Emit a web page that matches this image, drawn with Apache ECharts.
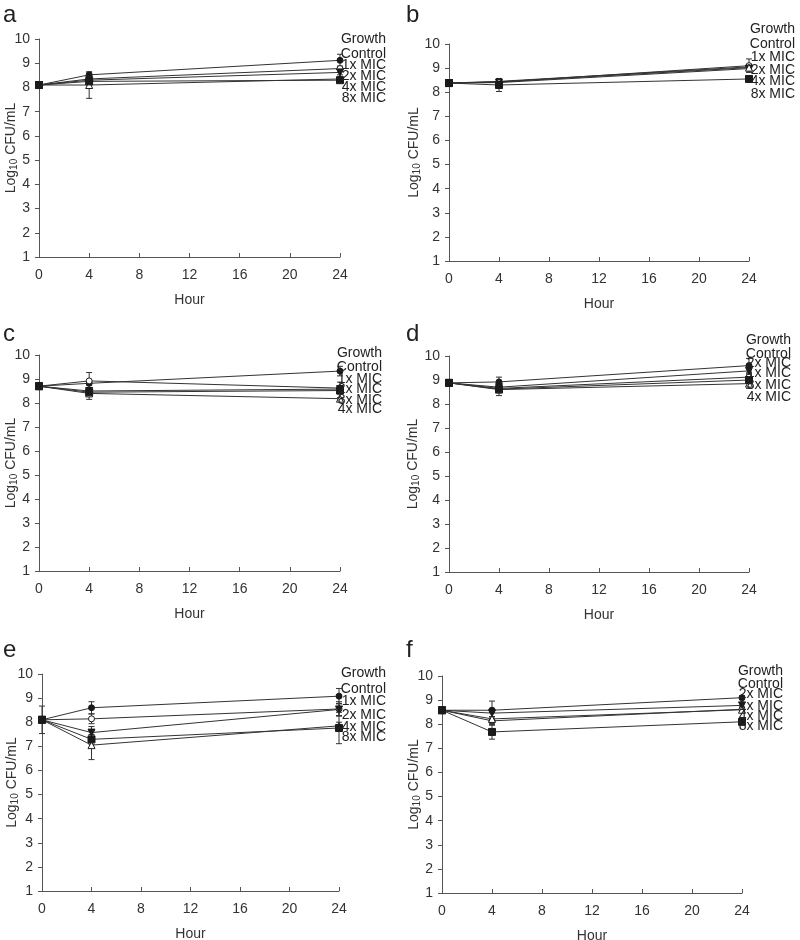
<!DOCTYPE html>
<html>
<head>
<meta charset="utf-8">
<script src="https://cdn.jsdelivr.net/npm/echarts@6/dist/echarts.min.js"></script>
<style>
html,body{margin:0;padding:0;background:#fff;}
#chart{width:800px;height:940px;}
</style>
</head>
<body>
<div id="chart"></div>
<script>
// ---------- DATA ----------
const hours = [0, 4, 24];
const xTicks = [0, 4, 8, 12, 16, 20, 24];
const seriesNames = ['Growth Control', '1x MIC', '2x MIC', '4x MIC', '8x MIC'];

// panel a
const aControl = [8.10, 8.52, 9.12];
const a1x      = [8.10, 8.35, 8.78];
const a2x      = [8.10, 8.30, 8.62];
const a4x      = [8.10, 8.10, 8.35];
const a8x      = [8.10, 8.25, 8.30];
const aControlErr = [0, 0.08, 0.25];
const a1xErr      = [0, 0.05, 0.10];
const a2xErr      = [0, 0.05, 0.10];
const a4xErr      = [0, 0.55, 0.08];
const a8xErr      = [0, 0.05, 0.08];
const aLabels = ['Growth', 'Control', '1x MIC', '2x MIC', '4x MIC', '8x MIC'];

// panel b
const bControl = [8.38, 8.45, 9.05];
const b1x      = [8.38, 8.42, 9.10];
const b2x      = [8.38, 8.40, 8.98];
const b4x      = [8.38, 8.43, 9.02];
const b8x      = [8.38, 8.30, 8.55];
const bControlErr = [0, 0.08, 0.10];
const b1xErr      = [0, 0.08, 0.28];
const b2xErr      = [0, 0.05, 0.10];
const b4xErr      = [0, 0.05, 0.08];
const b8xErr      = [0, 0.27, 0.12];
const bLabels = ['Growth', 'Control', '1x MIC', '2x MIC', '4x MIC', '8x MIC'];

// panel c
const cControl = [8.70, 8.82, 9.33];
const c1x      = [8.70, 8.92, 8.62];
const c2x      = [8.70, 8.50, 8.58];
const c4x      = [8.70, 8.40, 8.18];
const c8x      = [8.70, 8.45, 8.52];
const cControlErr = [0, 0.08, 0.20];
const c1xErr      = [0, 0.35, 0.25];
const c2xErr      = [0, 0.10, 0.10];
const c4xErr      = [0, 0.25, 0.05];
const c8xErr      = [0, 0.08, 0.08];
const cLabels = ['Growth', 'Control', '1x MIC', '2x MIC', '8x MIC', '4x MIC'];

// panel d
const dControl = [8.88, 8.92, 9.60];
const d1x      = [8.88, 8.65, 9.12];
const d2x      = [8.88, 8.70, 9.38];
const d4x      = [8.88, 8.60, 8.85];
const d8x      = [8.88, 8.62, 9.00];
const dControlErr = [0, 0.20, 0.30];
const d1xErr      = [0, 0.08, 0.10];
const d2xErr      = [0, 0.08, 0.10];
const d4xErr      = [0, 0.25, 0.20];
const d8xErr      = [0, 0.08, 0.10];
const dLabels = ['Growth', 'Control', '2x MIC', '1x MIC', '8x MIC', '4x MIC'];

// panel e
const eControl = [8.10, 8.60, 9.08];
const e1x      = [8.10, 8.14, 8.55];
const e2x      = [8.10, 7.57, 8.53];
const e4x      = [8.10, 7.05, 7.85];
const e8x      = [8.10, 7.29, 7.76];
const eControlErr = [0.05, 0.25, 0.32];
const e1xErr      = [0.57, 0.20, 0.30];
const e2xErr      = [0.05, 0.25, 0.25];
const e4xErr      = [0.05, 0.60, 0.15];
const e8xErr      = [0.05, 0.20, 0.65];
const eLabels = ['Growth', 'Control', '1x MIC', '2x MIC', '4x MIC', '8x MIC'];

// panel f
const fControl = [8.58, 8.58, 9.10];
const f1x      = [8.58, 8.14, 8.62];
const f2x      = [8.58, 8.46, 8.78];
const f4x      = [8.58, 8.22, 8.60];
const f8x      = [8.58, 7.68, 8.10];
const fControlErr = [0, 0.08, 0.08];
const f1xErr      = [0, 0.12, 0.10];
const f2xErr      = [0, 0.50, 0.10];
const f4xErr      = [0, 0.10, 0.10];
const f8xErr      = [0, 0.30, 0.12];
const fLabels = ['Growth', 'Control', '2x MIC', '1x MIC', '4x MIC', '8x MIC'];

// ---------- LAYOUT ----------
const panels = [
  { letter: 'a', grid: {left: 39, top: 39, width: 301, height: 218}, nameGap: 20,
    values: [aControl, a1x, a2x, a4x, a8x], errs: [aControlErr, a1xErr, a2xErr, a4xErr, a8xErr],
    labels: aLabels, labelX: 386, labelY: [39, 54, 65, 76, 87, 98], letterPos: [3, 3] },
  { letter: 'b', grid: {left: 449, top: 44, width: 300, height: 217}, nameGap: 27,
    values: [bControl, b1x, b2x, b4x, b8x], errs: [bControlErr, b1xErr, b2xErr, b4xErr, b8xErr],
    labels: bLabels, labelX: 795, labelY: [29, 44, 57, 70, 81, 94], letterPos: [406, 3] },
  { letter: 'c', grid: {left: 39, top: 355, width: 301, height: 216}, nameGap: 20,
    values: [cControl, c1x, c2x, c4x, c8x], errs: [cControlErr, c1xErr, c2xErr, c4xErr, c8xErr],
    labels: cLabels, labelX: 382, labelY: [353, 367, 379, 389, 400, 409], letterPos: [3, 322] },
  { letter: 'd', grid: {left: 449, top: 356, width: 300, height: 216}, nameGap: 28,
    values: [dControl, d1x, d2x, d4x, d8x], errs: [dControlErr, d1xErr, d2xErr, d4xErr, d8xErr],
    labels: dLabels, labelX: 791, labelY: [340, 354, 363, 373, 385, 397], letterPos: [406, 322] },
  { letter: 'e', grid: {left: 42, top: 674, width: 297, height: 217}, nameGap: 22,
    values: [eControl, e1x, e2x, e4x, e8x], errs: [eControlErr, e1xErr, e2xErr, e4xErr, e8xErr],
    labels: eLabels, labelX: 386, labelY: [673, 689, 701, 715, 727, 737], letterPos: [3, 638] },
  { letter: 'f', grid: {left: 442, top: 676, width: 300, height: 217}, nameGap: 20,
    values: [fControl, f1x, f2x, f4x, f8x], errs: [fControlErr, f1xErr, f2xErr, f4xErr, f8xErr],
    labels: fLabels, labelX: 783, labelY: [671, 684, 694, 706, 716, 726], letterPos: [406, 638] }
];

const symbolStyles = [
  { symbol: 'circle', fill: '#1a1a1a', rotate: 0, size: 6 },
  { symbol: 'circle', fill: '#ffffff', rotate: 0, size: 6 },
  { symbol: 'triangle', fill: '#1a1a1a', rotate: 180, size: 7 },
  { symbol: 'triangle', fill: '#ffffff', rotate: 0, size: 7 },
  { symbol: 'rect', fill: '#1a1a1a', rotate: 0, size: 7 }
];

const FONT = 'Liberation Sans, Arial, sans-serif';
const AXC = '#555';
const TXT = '#333';

const option = {
  backgroundColor: '#fff',
  animation: false,
  grid: [], xAxis: [], yAxis: [], series: [], graphic: []
};

panels.forEach((p, i) => {
  option.grid.push(Object.assign({ containLabel: false, outerBoundsMode: 'none' }, p.grid));
  option.xAxis.push({
    gridIndex: i, type: 'value', min: 0, max: 24, interval: 4,
    name: 'Hour', nameLocation: 'middle', nameGap: 36, nameMoveOverlap: false,
    nameTextStyle: { fontFamily: FONT, fontSize: 14, color: TXT },
    axisLine: { lineStyle: { color: AXC, width: 1 } },
    axisTick: { inside: true, length: 4, lineStyle: { color: AXC } },
    axisLabel: { fontFamily: FONT, fontSize: 14, color: TXT, margin: 11,
      formatter: v => xTicks.includes(v) ? String(v) : '' },
    splitLine: { show: false }
  });
  option.yAxis.push({
    gridIndex: i, type: 'value', min: 1, max: 10, interval: 1,
    name: 'Log{sub|10} CFU/mL', nameLocation: 'middle', nameGap: p.nameGap, nameMoveOverlap: false,
    nameTextStyle: { fontFamily: FONT, fontSize: 14, color: TXT,
      rich: { sub: { fontFamily: FONT, fontSize: 10, color: TXT, verticalAlign: 'bottom', padding: [5, 0, 0, 0] } } },
    axisLine: { show: true, lineStyle: { color: AXC, width: 1 } },
    axisTick: { show: true, length: 4, lineStyle: { color: AXC } },
    axisLabel: { fontFamily: FONT, fontSize: 14, color: TXT, margin: 9 },
    splitLine: { show: false }
  });

  p.values.forEach((vals, s) => {
    const st = symbolStyles[s];
    option.series.push({
      name: seriesNames[s], type: 'line', xAxisIndex: i, yAxisIndex: i,
      data: hours.map((h, k) => [h, vals[k]]),
      symbol: st.symbol, symbolSize: st.size, symbolRotate: st.rotate,
      showAllSymbol: true, z: 3,
      lineStyle: { color: '#333', width: 1 },
      itemStyle: { color: st.fill, borderColor: '#1a1a1a', borderWidth: 1 }
    });
    option.series.push({
      type: 'custom', xAxisIndex: i, yAxisIndex: i, z: 2,
      data: hours.map((h, k) => [h, vals[k], p.errs[s][k]]),
      renderItem: function (params, api) {
        const x = api.value(0), y = api.value(1), e = api.value(2);
        if (!e) return null;
        const top = api.coord([x, y + e]);
        const bot = api.coord([x, y - e]);
        const w = 3;
        const style = { stroke: '#333', lineWidth: 1 };
        return { type: 'group', children: [
          { type: 'line', shape: { x1: top[0], y1: top[1], x2: bot[0], y2: bot[1] }, style },
          { type: 'line', shape: { x1: top[0] - w, y1: top[1], x2: top[0] + w, y2: top[1] }, style },
          { type: 'line', shape: { x1: bot[0] - w, y1: bot[1], x2: bot[0] + w, y2: bot[1] }, style }
        ]};
      }
    });
  });

  option.graphic.push({
    type: 'text', left: p.letterPos[0], top: p.letterPos[1],
    style: { text: p.letter, fontFamily: FONT, fontSize: 24, fill: '#222' }
  });
  p.labels.forEach((t, k) => {
    option.graphic.push({
      type: 'text', x: p.labelX, y: p.labelY[k], z: 10,
      style: { text: t, fontFamily: FONT, fontSize: 14, fill: '#222',
        align: 'right', verticalAlign: 'middle' }
    });
  });
});

const chart = echarts.init(document.getElementById('chart'), null, { renderer: 'canvas' });
chart.setOption(option);
</script>
</body>
</html>
